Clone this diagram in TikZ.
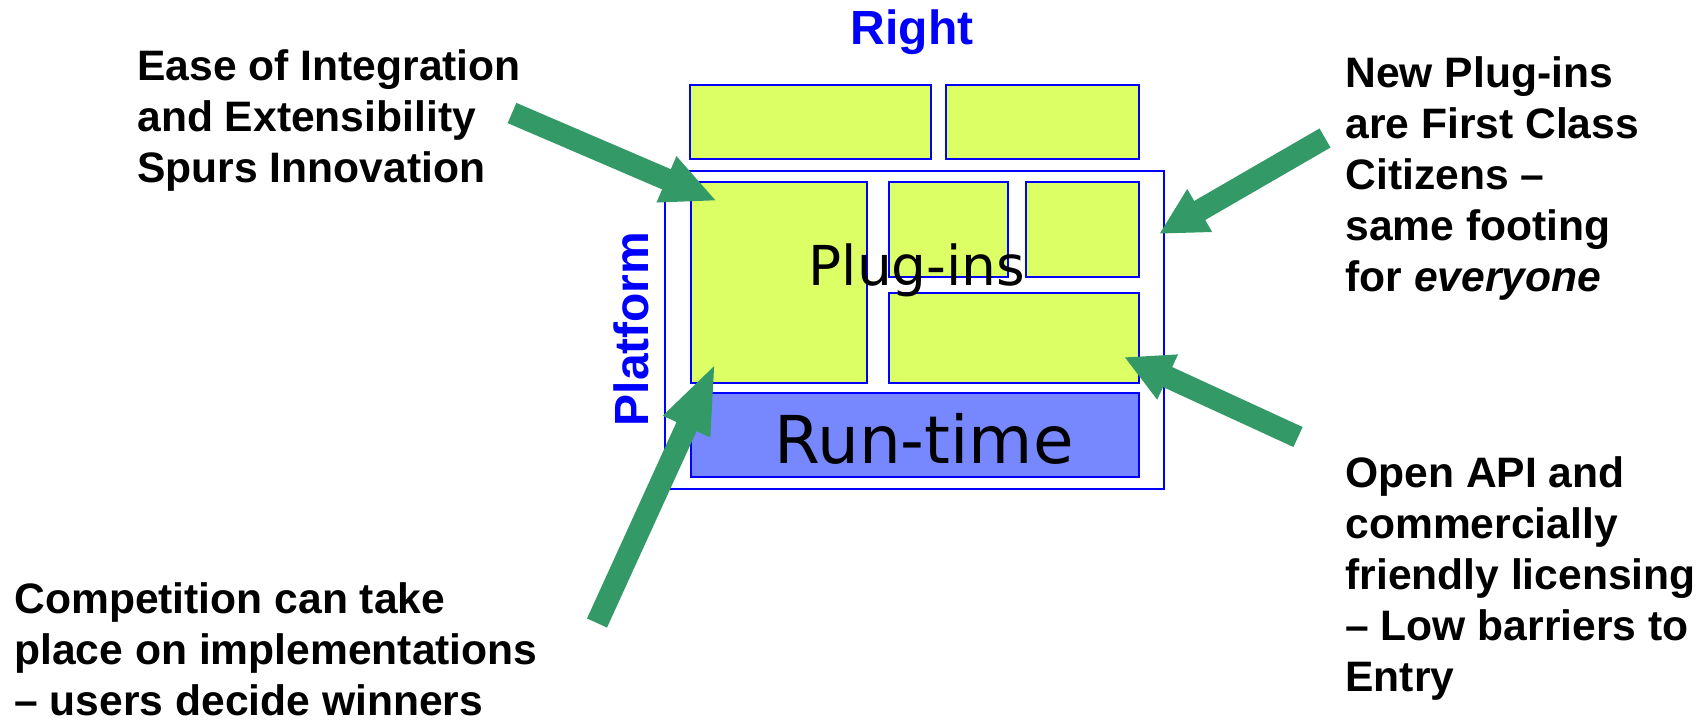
\documentclass[tikz,border=0pt]{standalone}
\usepackage{fontspec}
\setmainfont{Liberation Sans}
\newfontfamily\dejavu{DejaVu Sans}
\usetikzlibrary{arrows.meta}
\definecolor{plugyellow}{RGB}{221,255,102}
\definecolor{rtblue}{RGB}{119,136,255}
\definecolor{arrowgreen}{RGB}{51,153,102}
\definecolor{pureblue}{RGB}{0,0,255}
\begin{document}
\begin{tikzpicture}[x=0.5pt,y=-0.5pt,
  box/.style={rectangle, draw=pureblue, line width=1.4pt, inner sep=0pt, outer sep=0pt},
  plug/.style={box, fill=plugyellow},
  runbox/.style={box, fill=rtblue},
  frame/.style={box, fill=none, line width=1.05pt},
  bluelabel/.style={text=pureblue, font=\fontsize{24pt}{28pt}\selectfont\bfseries, inner sep=0pt},
  callout/.style={font=\fontsize{21.3pt}{25.5pt}\selectfont\bfseries, inner sep=0pt, anchor=base west},
  fatarrow/.style={draw=arrowgreen, line width=11pt, -{Triangle[length=#1, width=23pt]}}
]
\useasboundingbox (0,0) rectangle (1701,721);

% platform frame and boxes
\node[frame, minimum width=249.5pt, minimum height=159pt] (platform) at (914.5,330) {};
\node[plug, minimum width=120.5pt, minimum height=37pt] (topL) at (810.5,122) {};
\node[plug, minimum width=96.5pt, minimum height=37pt] (topR) at (1042.5,122) {};
\node[plug, minimum width=88pt, minimum height=100.5pt] (bigL) at (779,282.5) {};
\node[plug, minimum width=59.5pt, minimum height=47.5pt] (midS) at (948.5,229.5) {};
\node[plug, minimum width=56.5pt, minimum height=47.5pt] (rightS) at (1082.5,229.5) {};
\node[plug, minimum width=125pt, minimum height=45pt] (lowW) at (1014,338) {};
\node[runbox, minimum width=224pt, minimum height=42pt] (runtime) at (915,435) {};

% labels in the diagram
\node[inner sep=0pt, anchor=base, font=\dejavu\fontsize{27.5pt}{31pt}\selectfont] (pluglabel) at (917,286) {Plug-ins};
\node[inner sep=0pt, anchor=base, font=\dejavu\fontsize{33pt}{38pt}\selectfont] (rtlabel) at (924,463) {Run-time};
\node[bluelabel, anchor=base] (right) at (912,45) {Right};
\node[bluelabel, anchor=base, rotate=90] (platlabel) at (648,329) {Platform};

% callout texts
\node[callout] (ease) at (137,81) {\begin{tabular}[t]{@{}l@{}}Ease of Integration\\and Extensibility\\Spurs Innovation\end{tabular}};
\node[callout] (newplug) at (1345,88) {\begin{tabular}[t]{@{}l@{}}New Plug-ins\\are First Class\\Citizens --\\same footing\\for \textit{everyone}\end{tabular}};
\node[callout] (openapi) at (1345,487) {\begin{tabular}[t]{@{}l@{}}Open API and\\commercially\\friendly licensing\\-- Low barriers to\\Entry\end{tabular}};
\node[callout] (compet) at (14,613) {\begin{tabular}[t]{@{}l@{}}Competition can take\\place on implementations\\-- users decide winners\end{tabular}};

% arrow end points
\coordinate (a1s) at (512,113);  \coordinate (a1e) at (717,201);
\coordinate (a2s) at (1325,138); \coordinate (a2e) at (1159,234);
\coordinate (a3s) at (1298,437); \coordinate (a3e) at (1124,357);
\coordinate (a4s) at (597,623);  \coordinate (a4e) at (716,362);

\draw[fatarrow=27.5pt] (a1s) -- (a1e);
\draw[fatarrow=23.5pt] (a2s) -- (a2e);
\draw[fatarrow=24pt] (a3s) -- (a3e);
\draw[fatarrow=35.5pt] (a4s) -- (a4e);
\end{tikzpicture}
\end{document}
